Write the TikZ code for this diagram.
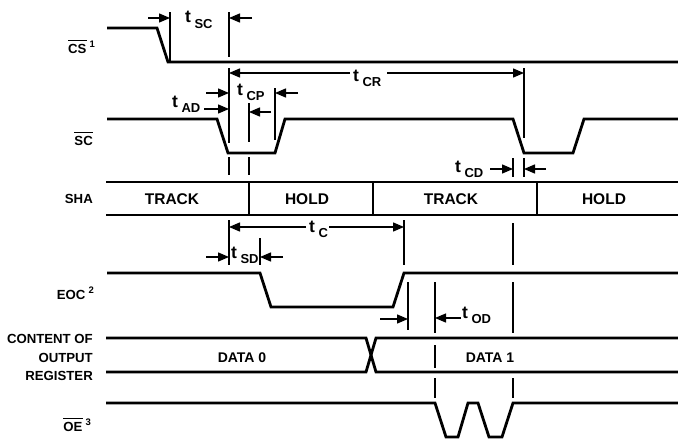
\documentclass[tikz,border=0pt]{standalone}
\usepackage{fontspec}
\setmainfont{Liberation Sans}
\usetikzlibrary{arrows.meta}
\newcommand{\tlab}[1]{{\fontsize{17.5}{17.5}\selectfont t}\kern3.5pt\raisebox{-5.5pt}{\fontsize{13}{13}\selectfont #1}}
\newcommand{\supn}[1]{\kern3pt\raisebox{6pt}{\fontsize{9.5}{9.5}\selectfont #1}}
\newcommand{\ovl}[1]{\setbox0\hbox{#1}\rlap{\raisebox{12pt}{\rule{\wd0}{1.3pt}}}\box0}
\begin{document}
\begin{tikzpicture}[x=1pt,y=-1pt,font=\bfseries,
  wave/.style={line width=2.8pt,line join=miter},
  tick/.style={line width=1.3pt},
  dim/.style={line width=1.3pt,-{Triangle[length=11pt,width=9pt]}},
  side/.style={anchor=base east,inner sep=0pt,font=\bfseries\fontsize{13.2}{13.2}\selectfont},
  state/.style={anchor=base,inner sep=0pt,font=\bfseries\fontsize{15.5}{15.5}\selectfont},
  datal/.style={anchor=base,inner sep=0pt,font=\bfseries\fontsize{14}{14}\selectfont},
  tl/.style={anchor=base west,inner sep=0pt}]
\useasboundingbox (0,0) rectangle (678,439);

% ---- waveforms ----
\draw[wave] (107,28) -- (157,28) -- (168,62) -- (678,62);
\draw[wave] (107,119) -- (217,119) -- (228,153) -- (275,153) -- (285,119) -- (513,119) -- (524,153) -- (573,153) -- (584,119) -- (678,119);
\draw[wave] (106,182) -- (678,182);
\draw[wave] (106,215) -- (678,215);
\draw[wave] (249,182) -- (249,215);
\draw[wave] (373,182) -- (373,215);
\draw[wave] (537,182) -- (537,215);
\draw[wave] (107,273) -- (260,273) -- (271,307) -- (393,307) -- (404,273) -- (678,273);
\draw[wave] (106,338) -- (366,338) -- (376,372) -- (678,372);
\draw[wave] (106,372) -- (366,372) -- (376,338) -- (678,338);
\draw[wave] (106,403) -- (435,403) -- (446,437) -- (458,437) -- (468,403) -- (478,403) -- (489,437) -- (502,437) -- (513,403) -- (678,403);

% ---- timing reference lines ----
\draw[tick] (170,12) -- (170,62);
\draw[tick] (229,12) -- (229,57);
\draw[tick] (229,68) -- (229,143);
\draw[tick] (229,157) -- (229,175);
\draw[tick] (229,220) -- (229,265);
\draw[tick] (249,103) -- (249,142);
\draw[tick] (249,157) -- (249,175);
\draw[tick] (275,88) -- (275,140);
\draw[tick] (524,68) -- (524,138);
\draw[tick] (513,158) -- (513,177);
\draw[tick] (524,158) -- (524,177);
\draw[tick] (513,223) -- (513,265);
\draw[tick] (513,282) -- (513,333);
\draw[tick] (513,378) -- (513,398);
\draw[tick] (404,220) -- (404,265);
\draw[tick] (260,238) -- (260,265);
\draw[tick] (408,282) -- (408,330);
\draw[tick] (435,282) -- (435,333);
\draw[tick] (435,345) -- (435,368);
\draw[tick] (435,378) -- (435,398);

% ---- dimension arrows ----
\draw[dim] (148,18) -- (170,18);
\draw[dim] (252,18) -- (229,18);
\draw[dim] (350,73) -- (229,73);
\draw[dim] (387,73) -- (524,73);
\draw[dim] (206,93) -- (229,93);
\draw[dim] (298,93) -- (275,93);
\draw[dim] (204,109) -- (229,109);
\draw[dim] (271,112) -- (249,112);
\draw[dim] (490,169) -- (513,169);
\draw[dim] (546,169) -- (524,169);
\draw[dim] (306,227) -- (229,227);
\draw[dim] (329,227) -- (404,227);
\draw[dim] (206,257) -- (229,257);
\draw[dim] (283,257) -- (260,257);
\draw[dim] (380,319) -- (408,319);
\draw[dim] (461,318) -- (435,318);

% ---- timing labels ----
\node[tl] (tsc) at (185,23) {\tlab{SC}};
\node[tl] (tcr) at (353,81) {\tlab{CR}};
\node[tl] (tcp) at (237,95) {\tlab{CP}};
\node[tl] (tad) at (172,107) {\tlab{AD}};
\node[tl] (tcd) at (455,172) {\tlab{CD}};
\node[tl] (tc) at (309,232) {\tlab{C}};
\node[tl] (tsd) at (231,258) {\tlab{SD}};
\node[tl] (tod) at (462,318) {\tlab{OD}};

% ---- signal names ----
\node[side] (lcs) at (95,53) {\ovl{CS}\supn{1}};
\node[side] (lsc) at (93,145) {\ovl{SC}};
\node[side] (lsha) at (93,203) {SHA};
\node[side] (leoc) at (94,299) {EOC\supn{2}};
\node[side] (lc1) at (93,343) {CONTENT OF};
\node[side] (lc2) at (93,362) {OUTPUT};
\node[side] (lc3) at (93,380) {REGISTER};
\node[side] (loe) at (91,431) {\ovl{OE}\supn{3}};

% ---- state texts ----
\node[state] (s1) at (172,204) {TRACK};
\node[state] (s2) at (307,204) {HOLD};
\node[state] (s3) at (451,204) {TRACK};
\node[state] (s4) at (604,204) {HOLD};
\node[datal] (d0) at (242,362) {DATA 0};
\node[datal] (d1) at (490,362) {DATA 1};
\end{tikzpicture}
\end{document}
